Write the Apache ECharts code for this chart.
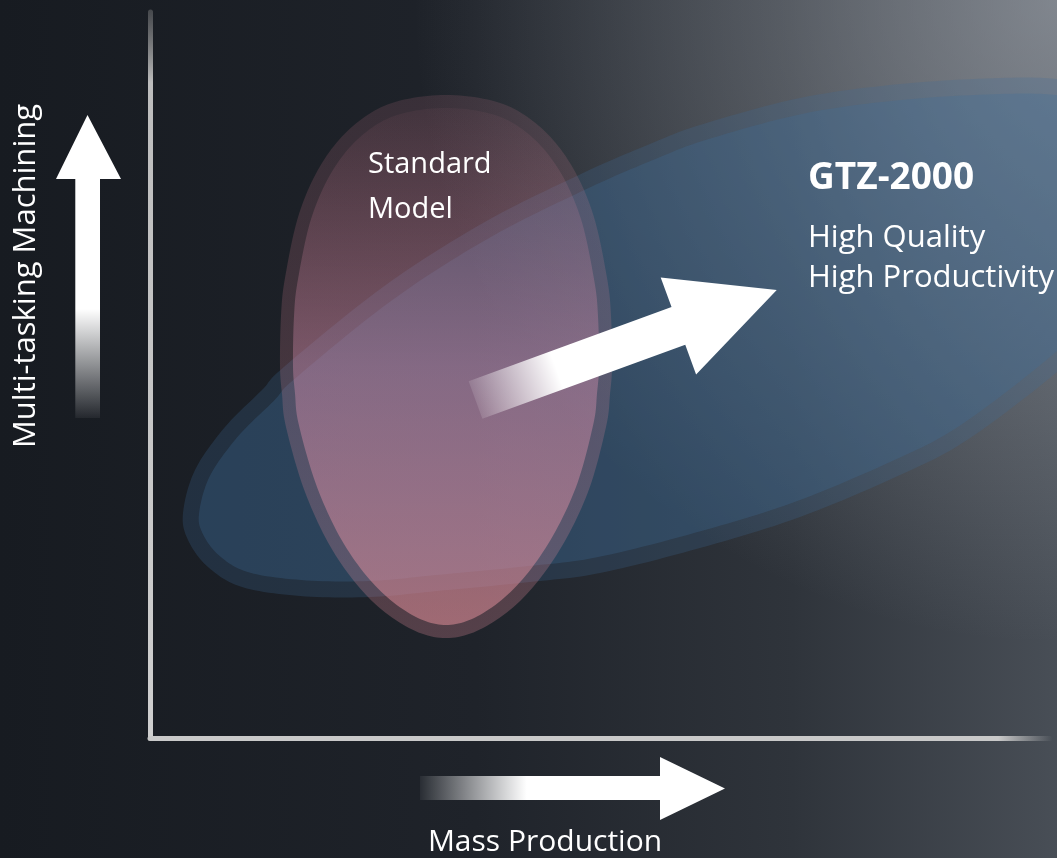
<!DOCTYPE html>
<html>
<head>
<meta charset="utf-8">
<script src="https://cdn.jsdelivr.net/npm/echarts@6/dist/echarts.min.js"></script>
<style>
html,body{margin:0;padding:0;background:#181c22;}
#main{width:1057px;height:858px;}
</style>
</head>
<body>
<div id="main"></div>
<script>
// x = mass production, y = multi-tasking machining (units)
var regionNames = ['GTZ-2000', 'Standard Model'];
var gtzNotes = ['High Quality', 'High Productivity'];
var axisNames = ['Mass Production', 'Multi-tasking Machining'];

// outline of the GTZ-2000 region
var gtzOutline = [
	[3.3,22.5],[4.5,26.8],[7.5,31.1],[11.2,34.8],[13.5,37.2],[23.3,45.1],[33.3,51.5],
	[43.3,56.5],[50.0,59.4],[55.0,61.3],[65.0,64.0],[75.0,65.4],[85.0,66.0],[90.7,65.9],
	[96.0,65.0],[100.0,61.2],[101.5,54.8],[100.0,47.8],[96.0,41.8],[90.7,36.6],[81.7,29.8],
	[75.0,26.3],[65.0,22.1],[55.0,19.0],[45.0,16.5],[38.0,15.6],[28.7,14.7],[22.0,14.1],
	[15.0,14.2],[9.2,15.1],[5.8,17.1],[3.8,19.8]
];
// outline of the standard model region
var standardOutline = [
	[46.2,37.2],[46.1,42.2],[45.7,46.0],[44.3,52.4],[42.0,57.5],[38.9,61.2],[35.0,63.5],
	[29.6,64.3],[24.2,63.5],[20.3,61.2],[17.2,57.5],[14.9,52.4],[13.5,46.0],[13.1,42.2],
	[13.0,37.2],[13.2,34.4],[13.6,31.1],[15.5,24.6],[18.3,18.7],[21.9,14.0],[25.9,11.0],
	[29.6,10.0],[33.3,11.0],[37.3,14.0],[40.9,18.7],[43.8,24.6],[45.6,31.1],[46.0,34.4]
];

var FONT = '"Open Sans", "Noto Sans", sans-serif';
var LG = echarts.graphic.LinearGradient;

// closed catmull-rom curve through the outline points
function smoothRing(pts, steps){
	var out = [], n = pts.length;
	for (var i = 0; i < n; i++) {
		var p0 = pts[(i - 1 + n) % n], p1 = pts[i], p2 = pts[(i + 1) % n], p3 = pts[(i + 2) % n];
		for (var s = 0; s < steps; s++) {
			var t = s / steps, t2 = t * t, t3 = t2 * t, q = [];
			for (var k = 0; k < 2; k++) {
				q.push(0.5 * (2 * p1[k] + (p2[k] - p0[k]) * t +
					(2 * p0[k] - 5 * p1[k] + 4 * p2[k] - p3[k]) * t2 +
					(3 * p1[k] - p0[k] - 3 * p2[k] + p3[k]) * t3));
			}
			out.push(q);
		}
	}
	return out;
}
// move the curve inwards by d pixels (the rim is the band left outside)
function insetRing(pts, d){
	var n = pts.length, area = 0;
	for (var i = 0; i < n; i++) {
		var a = pts[i], b = pts[(i + 1) % n];
		area += a[0] * b[1] - b[0] * a[1];
	}
	var sign = area > 0 ? 1 : -1;
	return pts.map(function(p, i){
		var a = pts[(i - 1 + n) % n], b = pts[(i + 1) % n];
		var tx = b[0] - a[0], ty = b[1] - a[1], len = Math.sqrt(tx * tx + ty * ty) || 1;
		return [p[0] - sign * ty / len * d, p[1] + sign * tx / len * d];
	});
}
function regionItem(outline, rim, outerFill, innerFill){
	return function(params, api){
		var ring = smoothRing(outline.map(function(p){ return api.coord(p); }), 12);
		return {
			type: 'group',
			children: [
				{type: 'polygon', shape: {points: ring}, style: {fill: outerFill}},
				{type: 'polygon', shape: {points: insetRing(ring, rim)}, style: {fill: innerFill}}
			]
		};
	};
}

var chart = echarts.init(document.getElementById('main'));
var option = {
	backgroundColor: new LG(0, 0, 1, 0, [
		{offset: 0, color: '#171b21'},
		{offset: 0.45, color: '#1f232a'},
		{offset: 0.75, color: '#2f343b'},
		{offset: 1, color: '#484e56'}
	]),
	animation: false,
	grid: {left: 150, top: 12, width: 900, height: 726},
	xAxis: {
		type: 'value', min: 0, max: 90,
		axisLine: {lineStyle: {width: 5, color: new LG(0, 0, 1, 0, [
			{offset: 0, color: '#c9c9c9'}, {offset: 0.94, color: '#c9c9c9'}, {offset: 1, color: 'rgba(200,200,200,0)'}
		])}},
		axisTick: {show: false}, axisLabel: {show: false}, splitLine: {show: false}
	},
	yAxis: {
		type: 'value', min: 0, max: 72.6,
		axisLine: {lineStyle: {width: 5, color: new LG(0, 1, 0, 0, [
			{offset: 0, color: '#cfcfcf'}, {offset: 0.9, color: '#bdbdbd'}, {offset: 1, color: 'rgba(150,150,150,0.35)'}
		])}},
		axisTick: {show: false}, axisLabel: {show: false}, splitLine: {show: false}
	},
	series: [
		{
			name: regionNames[0], type: 'custom', silent: true, data: [[0, 0]],
			renderItem: regionItem(gtzOutline, 16, 'rgba(64,110,156,0.24)', 'rgba(64,110,156,0.27)')
		},
		{
			name: regionNames[1], type: 'custom', silent: true, data: [[0, 0]],
			renderItem: regionItem(standardOutline, 13,
				new LG(0, 0, 0, 1, [{offset: 0, color: 'rgba(212,125,145,0.15)'}, {offset: 1, color: 'rgba(225,140,155,0.28)'}]),
				new LG(0, 0, 0, 1, [{offset: 0, color: 'rgba(212,125,145,0.06)'}, {offset: 0.5, color: 'rgba(222,148,182,0.36)'}, {offset: 1, color: 'rgba(228,145,155,0.52)'}]))
		}
	],
	graphic: {elements: [
		{type: 'rect', z: 0, silent: true, shape: {x: 0, y: 0, width: 1057, height: 858},
			style: {fill: new echarts.graphic.RadialGradient(1, 0, 0.75, [
				{offset: 0, color: 'rgba(175,180,188,0.55)'}, {offset: 1, color: 'rgba(175,180,188,0)'}
			])}},
		// axis arrows
		{type: 'polygon', z: 100, shape: {points: [[87.5,115],[121,179],[100,179],[100,418],[75.3,418],[75.3,179],[56,179]]},
			style: {fill: new LG(0, 0, 0, 1, [{offset: 0, color: '#fff'}, {offset: 0.64, color: '#fff'}, {offset: 1, color: 'rgba(255,255,255,0.05)'}])}},
		{type: 'polygon', z: 100, shape: {points: [[420,776],[660,776],[660,757],[725,788.5],[660,820],[660,800],[420,800]]},
			style: {fill: new LG(0, 0, 1, 0, [{offset: 0, color: 'rgba(255,255,255,0.05)'}, {offset: 0.35, color: '#fff'}, {offset: 1, color: '#fff'}])}},
		// the move from the standard model to GTZ-2000
		{type: 'polygon', z: 100, x: 475.5, y: 400, rotation: 20.06 * Math.PI / 180,
			shape: {points: [[0,-20],[216,-20],[216,-51.6],[320.7,0],[216,51.6],[216,20],[0,20]]},
			style: {fill: new LG(0, 0, 1, 0, [{offset: 0, color: 'rgba(255,255,255,0.12)'}, {offset: 0.27, color: '#fff'}, {offset: 1, color: '#fff'}])}},
		// texts
		{type: 'text', z: 100, x: 26, y: 276, rotation: Math.PI / 2,
			style: {text: axisNames[1], font: '31px ' + FONT, fill: '#fff', align: 'center', verticalAlign: 'middle'}},
		{type: 'text', z: 100, x: 545, y: 842,
			style: {text: axisNames[0], font: '30px ' + FONT, fill: '#fff', align: 'center', verticalAlign: 'middle'}},
		{type: 'text', z: 100, x: 368, y: 165,
			style: {text: 'Standard', font: '29px ' + FONT, fill: '#fff', align: 'left', verticalAlign: 'middle'}},
		{type: 'text', z: 100, x: 368, y: 210,
			style: {text: 'Model', font: '29px ' + FONT, fill: '#fff', align: 'left', verticalAlign: 'middle'}},
		{type: 'text', z: 100, x: 808, y: 178,
			style: {text: regionNames[0], font: 'bold 37px ' + FONT, fill: '#fff', align: 'left', verticalAlign: 'middle'}},
		{type: 'text', z: 100, x: 808, y: 238,
			style: {text: gtzNotes[0], font: '31px ' + FONT, fill: '#fff', align: 'left', verticalAlign: 'middle'}},
		{type: 'text', z: 100, x: 808, y: 278,
			style: {text: gtzNotes[1], font: '31px ' + FONT, fill: '#fff', align: 'left', verticalAlign: 'middle'}}
	]}
};
chart.setOption(option);
</script>
</body>
</html>
